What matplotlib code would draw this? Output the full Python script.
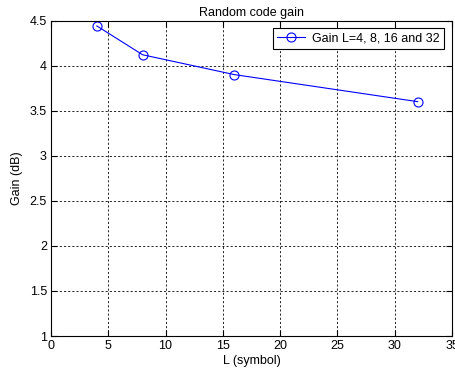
import numpy as np
import matplotlib
matplotlib.use('Agg')
import matplotlib.pyplot as plt

L = [4, 8, 16, 32]
gain = [4.44, 4.12, 3.90, 3.60]
xticks = [0, 5, 10, 15, 20, 25, 30, 35]
yticks = [1, 1.5, 2, 2.5, 3, 3.5, 4, 4.5]

plt.rcParams['font.family'] = ['Liberation Sans', 'DejaVu Sans']
fontsize = 9

fig = plt.figure(figsize=(4.56, 3.71), dpi=100)
ax = fig.add_axes([0.1118, 0.0943, 0.8794, 0.8504])

ax.plot(L, gain, color='blue', linewidth=0.8, marker='o', markersize=6.5,
        markerfacecolor='none', markeredgecolor='blue', markeredgewidth=0.8,
        label='Gain L=4, 8, 16 and 32')

ax.set_xlim(0, 35)
ax.set_ylim(1, 4.5)
ax.set_xticks(xticks)
ax.set_yticks(yticks)
ax.set_xticklabels([str(t) for t in xticks])
ax.set_yticklabels(['1', '1.5', '2', '2.5', '3', '3.5', '4', '4.5'])

ax.grid(True, color='black', linestyle=(0, (2.5, 2.5)), linewidth=0.6)
ax.tick_params(axis='both', direction='in', length=4, width=0.8,
               labelsize=fontsize, top=True, right=True, pad=3)
for axis in ['top', 'bottom', 'left', 'right']:
    ax.spines[axis].set_linewidth(0.8)

ax.set_title('Random code gain', fontsize=fontsize, pad=3)
ax.set_xlabel('L (symbol)', fontsize=fontsize, labelpad=2)
ax.set_ylabel('Gain (dB)', fontsize=fontsize, labelpad=5)

leg = ax.legend(loc='upper right', fontsize=fontsize, fancybox=False,
                framealpha=1, edgecolor='black', borderpad=0.35,
                handlelength=2.2, handletextpad=0.6, borderaxespad=0.6)
leg.get_frame().set_linewidth(0.8)

fig.savefig('out.png', dpi=100)
